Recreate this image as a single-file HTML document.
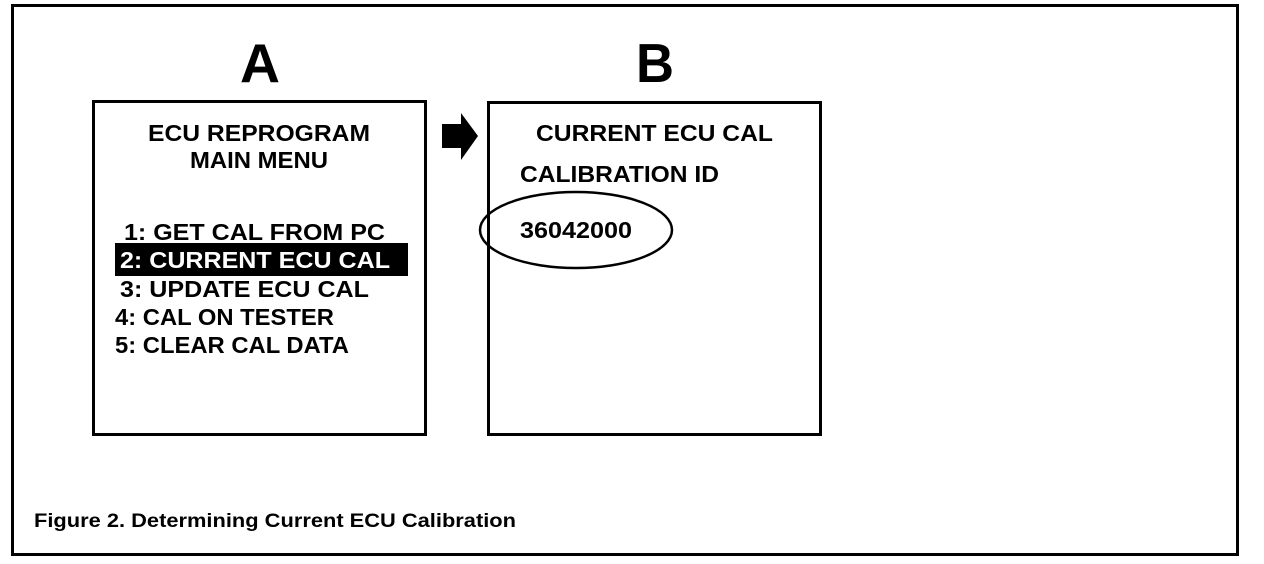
<!DOCTYPE html>
<html><head><meta charset="utf-8"><style>
html,body{margin:0;padding:0;background:#fff;}
svg{display:block;}
text{font-family:"Liberation Sans",Arial,sans-serif;font-weight:bold;fill:#000;}
</style></head><body>
<svg width="1264" height="564" viewBox="0 0 1264 564" xmlns="http://www.w3.org/2000/svg">
<rect x="12.5" y="5.5" width="1225" height="549" fill="none" stroke="#000" stroke-width="3"/>
<text x="240" y="82" font-size="55" textLength="40" lengthAdjust="spacingAndGlyphs">A</text>
<text x="636" y="82" font-size="55" textLength="38" lengthAdjust="spacingAndGlyphs">B</text>
<rect x="93.5" y="101.5" width="332" height="333" fill="none" stroke="#000" stroke-width="3"/>
<rect x="488.5" y="102.5" width="332" height="332" fill="none" stroke="#000" stroke-width="3"/>
<polygon points="442,124 461,124 461,113 478,136 461,160 461,148 442,148" fill="#000"/>
<g font-size="23">
<text x="148" y="141" textLength="222" lengthAdjust="spacingAndGlyphs">ECU REPROGRAM</text>
<text x="190" y="168" textLength="138" lengthAdjust="spacingAndGlyphs">MAIN MENU</text>
<text x="124" y="240" textLength="261" lengthAdjust="spacingAndGlyphs">1:  GET CAL FROM PC</text>
<rect x="115" y="243" width="293" height="33" fill="#000"/>
<text x="120" y="268" textLength="270" lengthAdjust="spacingAndGlyphs" style="fill:#fff">2:  CURRENT ECU CAL</text>
<text x="120" y="297" textLength="249" lengthAdjust="spacingAndGlyphs">3:  UPDATE ECU CAL</text>
<text x="115" y="325" textLength="219" lengthAdjust="spacingAndGlyphs">4:  CAL ON TESTER</text>
<text x="115" y="353" textLength="234" lengthAdjust="spacingAndGlyphs">5:  CLEAR CAL DATA</text>
<text x="536" y="141" textLength="237" lengthAdjust="spacingAndGlyphs">CURRENT ECU CAL</text>
<text x="520" y="182" textLength="199" lengthAdjust="spacingAndGlyphs">CALIBRATION ID</text>
<text x="520" y="238" textLength="112" lengthAdjust="spacingAndGlyphs">36042000</text>
</g>
<ellipse cx="576" cy="230" rx="96" ry="38" fill="none" stroke="#000" stroke-width="2.5"/>
<text x="34" y="527" font-size="19" textLength="482" lengthAdjust="spacingAndGlyphs">Figure 2. Determining Current ECU Calibration</text>
</svg>
</body></html>
